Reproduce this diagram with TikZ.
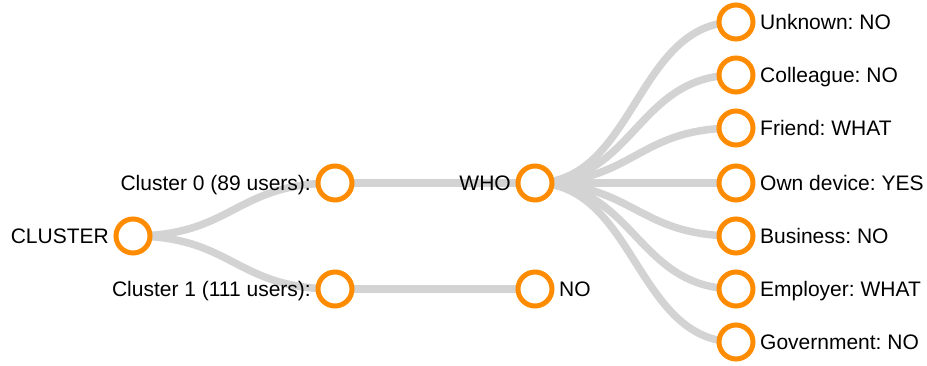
\documentclass[tikz,border=0pt]{standalone}
\usepackage{fontspec}
\setmainfont{Liberation Sans}
\usetikzlibrary{backgrounds}
\frenchspacing

\definecolor{treeorange}{RGB}{255,140,0}
\definecolor{linkgray}{RGB}{211,211,211}

\begin{document}
\begin{tikzpicture}[
        x=1pt, y=-1pt,
        treenode/.style={
        circle,
        draw=treeorange,
        fill=white,
        line width=5pt,
        minimum size=34pt,
        inner sep=0pt,
        outer sep=0pt},
    namebox/.style={
        font=\fontsize{21}{25}\selectfont,
        inner sep=0pt,
        text height=15pt,
        text depth=0pt},
    treelink/.style={draw=linkgray, line width=7.5pt},
    label distance=7pt
    ]
    \useasboundingbox (0,0) rectangle (927,366);

    \node[treenode,label={[namebox]left:{CLUSTER}}] (root) at (133,236) {};
    \node[treenode,label={[namebox]left:{Cluster 0 (89 users):}}] (c0) at (335,183) {};
    \node[treenode,label={[namebox]left:{Cluster 1 (111 users):}}] (c1) at (335,289) {};
    \node[treenode,label={[namebox]left:{WHO}}] (who) at (535,183) {};
    \node[treenode,label={[namebox]right:{NO}}] (no) at (535,289) {};

    \foreach \n/\y/\txt in {% name/y/text
        l1/22/{Unknown: NO},
        l2/75/{Colleague: NO},
        l3/128/{Friend: WHAT},
        l4/183/{Own device: YES},
        l5/236/{Business: NO},
        l6/289/{Employer: WHAT},
        l7/342/{Government: NO}}
        \node[treenode,label={[namebox]right:{\txt}}] (\n) at (736,\y) {};

    % links go behind the circles
    \begin{scope}[on background layer]
    \foreach \i/\j in {root/c0, root/c1, c0/who, c1/no,
        who/l1, who/l2, who/l3, who/l4, who/l5, who/l6, who/l7}
        \draw[treelink] (\i.center) to[out=0,in=180,distance=100pt] (\j.center);
    \end{scope}
\end{tikzpicture}
\end{document}
